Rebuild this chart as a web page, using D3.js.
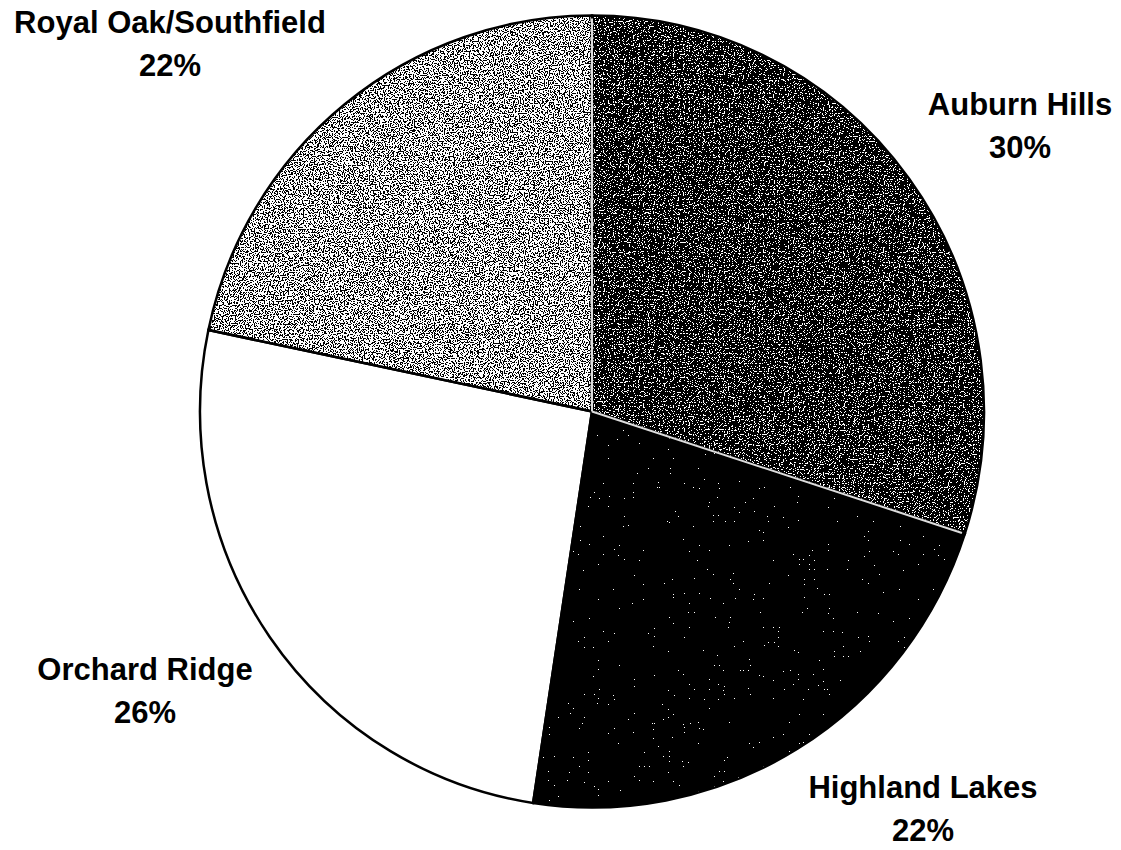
<!DOCTYPE html>
<html>
<head>
<meta charset="utf-8">
<script src="https://cdn.jsdelivr.net/npm/d3@7"></script>
<style>
  body { margin: 0; background: #fff; }
  svg { display: block; }
  .lbl { font-family: "Liberation Sans", Arial, sans-serif; font-weight: bold; font-size: 31px; fill: #000; }
</style>
</head>
<body>
<svg id="chart" width="1121" height="850"></svg>
<script>
// campus share of enrollment (slice sizes, labels as printed)
const campuses = ["Auburn Hills", "Highland Lakes", "Orchard Ridge", "Royal Oak/Southfield"];
const shares = [30.0, 22.4, 25.9, 21.7];
const shareLabels = ["30%", "22%", "26%", "22%"];

const svg = d3.select("#chart");
const cx = 592, cy = 411.5, r = 392;
// the scan is a touch taller than wide
const yStretch = 396 / 392;

// speckled fills, one filter per campus (threshold controls how many white dots)
const fills = ["#000", "#000", "#fff", "#000"];
const dotCut = [0.585, 0.74, null, 0.45];
const defs = svg.append("defs");
dotCut.forEach((cut, i) => {
    if (cut === null) return;
    const f = defs.append("filter").attr("id", "sp" + i)
        .attr("color-interpolation-filters", "sRGB")
        .attr("x", "0").attr("y", "0").attr("width", "1").attr("height", "1");
    f.append("feTurbulence").attr("type", "fractalNoise")
        .attr("baseFrequency", 0.8).attr("numOctaves", 1).attr("seed", i + 2).attr("result", "noise");
    // alpha = 30 * (R - cut): steep ramp so the discrete step gives hard dots
    f.append("feColorMatrix").attr("in", "noise").attr("type", "matrix")
        .attr("values", `0 0 0 0 1  0 0 0 0 1  0 0 0 0 1  30 0 0 0 ${-30 * cut}`).attr("result", "dots");
    const ct = f.append("feComponentTransfer").attr("in", "dots").attr("result", "dots2");
    ct.append("feFuncA").attr("type", "discrete").attr("tableValues", "0 1");
    f.append("feComposite").attr("in", "dots2").attr("in2", "SourceGraphic")
        .attr("operator", "in").attr("result", "clipped");
    const m = f.append("feMerge");
    m.append("feMergeNode").attr("in", "SourceGraphic");
    m.append("feMergeNode").attr("in", "clipped");
});

const pie = d3.pie().sort(null).value(d => d);
const arcs = pie(shares);
const arc = d3.arc().innerRadius(0).outerRadius(r);

const g = svg.append("g").attr("transform", `translate(${cx},${cy}) scale(1,${yStretch})`);

g.selectAll("path.fill").data(arcs).enter().append("path")
    .attr("class", "fill")
    .attr("d", arc)
    .attr("fill", (d, i) => fills[i])
    .attr("filter", (d, i) => dotCut[i] === null ? null : `url(#sp${i})`);

// outlines
g.selectAll("path.edge").data(arcs).enter().append("path")
    .attr("class", "edge")
    .attr("d", arc)
    .attr("fill", "none")
    .attr("stroke", "#000")
    .attr("stroke-width", 2.5);

// light seams on the Auburn Hills edges
[arcs[0].startAngle, arcs[0].endAngle].forEach(a => {
    g.append("line")
        .attr("x1", 0).attr("y1", 0)
        .attr("x2", (r - 3) * Math.sin(a)).attr("y2", -(r - 3) * Math.cos(a))
        .attr("stroke", "#ddd").attr("stroke-width", 2);
});

// labels (name line + percent line)
const labelPos = [[1020, 115], [923, 798], [145, 680], [170, 33]];
campuses.forEach((name, i) => {
    const [x, y] = labelPos[i];
    const t = svg.append("text").attr("class", "lbl").attr("text-anchor", "middle");
    t.append("tspan").attr("x", x).attr("y", y).text(name);
    t.append("tspan").attr("x", x).attr("y", y + 43).text(shareLabels[i]);
});
</script>
</body>
</html>
